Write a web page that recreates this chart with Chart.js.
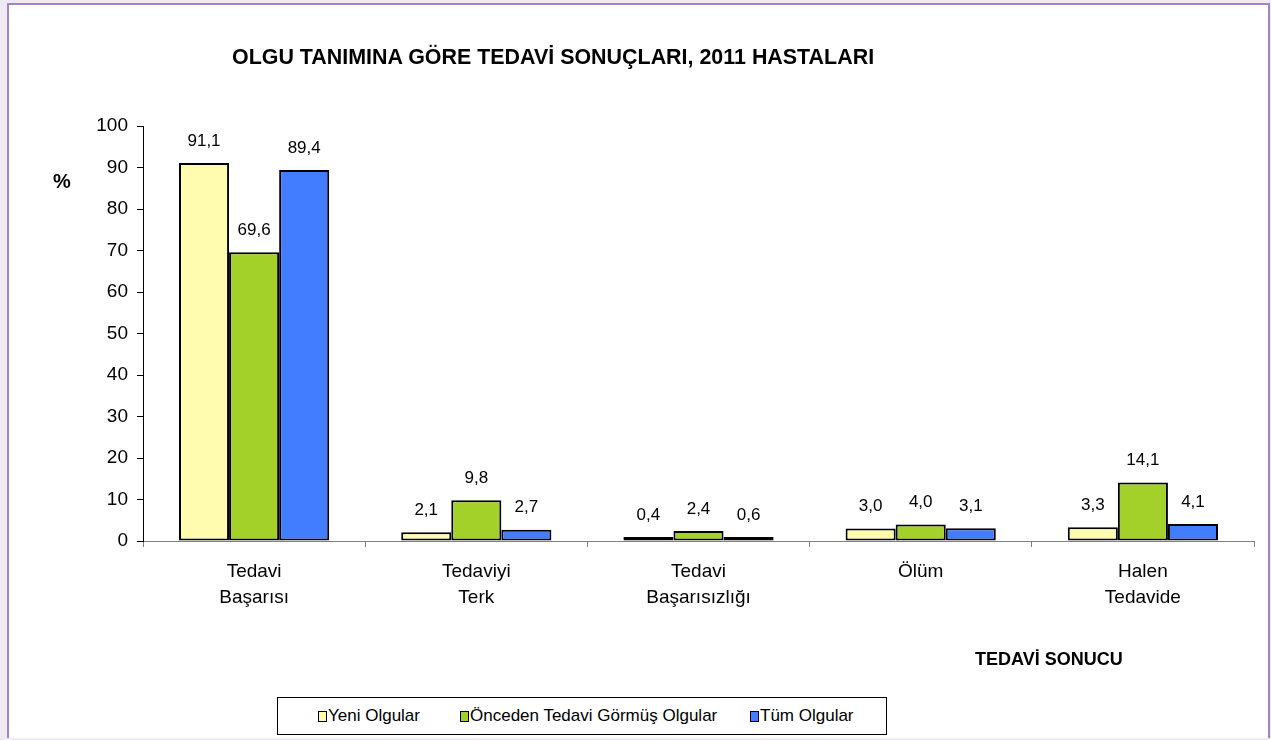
<!DOCTYPE html>
<html>
<head>
<meta charset="utf-8">
<script src="https://cdn.jsdelivr.net/npm/chart.js@4.4.1/dist/chart.umd.min.js"></script>
<style>
  body { margin: 0; background: #efebf3; width: 1271px; height: 740px; overflow: hidden; position: relative; }
  #frame { position: absolute; left: 7px; top: 3px; width: 1259px; height: 733px; border: 2px solid #a283c8; border-bottom: none; background: #fff; }
  #chartDiv { position: absolute; left: 0; top: 0; width: 1271px; height: 740px; }
  .txt { position: absolute; font-family: 'Liberation Sans', Arial, sans-serif; color: #000; white-space: nowrap; transform-origin: left center; }
  #title { left: 232px; top: 44px; font-size: 22px; font-weight: bold; transform: scaleX(0.974); }
  #pct { left: 53px; top: 170px; font-size: 20px; font-weight: bold; }
  #xtitle { left: 975px; top: 649px; font-size: 18px; font-weight: bold; }
  #legend { position: absolute; left: 277px; top: 697px; width: 610px; height: 38px; border: 1px solid #000; background: #fff; box-sizing: border-box; }
  .item { position: absolute; top: 0; height: 36px; display: flex; align-items: center; font-family: 'Liberation Sans', Arial, sans-serif; font-size: 17px; }
  .sw { width: 7px; height: 9px; border: 1.5px solid #000; margin-right: 1px; }
</style>
</head>
<body>
<div id="frame"></div>
<div id="chartDiv"><canvas id="myChart" width="1271" height="740"></canvas></div>
<div class="txt" id="title">OLGU TANIMINA GÖRE TEDAVİ SONUÇLARI, 2011 HASTALARI</div>
<div class="txt" id="pct">%</div>
<div class="txt" id="xtitle">TEDAVİ SONUCU</div>
<div id="legend"></div>
<script>
const categories = [["Tedavi", "Başarısı"], ["Tedaviyi", "Terk"], ["Tedavi", "Başarısızlığı"], ["Ölüm"], ["Halen", "Tedavide"]];
const seriesNames = ["Yeni Olgular", "Önceden Tedavi Görmüş Olgular", "Tüm Olgular"];
const yeniOlgular = [91.1, 2.1, 0.4, 3.0, 3.3];
const oncedenTedavi = [69.6, 9.8, 2.4, 4.0, 14.1];
const tumOlgular = [89.4, 2.7, 0.6, 3.1, 4.1];
const yTicks = [0, 10, 20, 30, 40, 50, 60, 70, 80, 90, 100];
const colors = ["#fffcb0", "#a3d12a", "#427dff"];

const font = "'Liberation Sans', Arial, sans-serif";

// legend in html, item left positions inside the box
const legendLefts = [40, 182, 472];
const legend = document.getElementById("legend");
seriesNames.forEach(function (name, i) {
    const item = document.createElement("div");
    item.className = "item";
    item.style.left = legendLefts[i] + "px";
    item.innerHTML = '<span class="sw" style="background:' + colors[i] + '"></span>' + name;
    legend.appendChild(item);
});

// labels above the bars, comma decimals
const valueLabels = {
    id: "valueLabels",
    afterDatasetsDraw(chart) {
        const ctx = chart.ctx;
        ctx.save();
        ctx.font = "17px " + font;
        ctx.fillStyle = "#000";
        ctx.textAlign = "center";
        ctx.textBaseline = "middle";
        chart.data.datasets.forEach(function (ds, di) {
            chart.getDatasetMeta(di).data.forEach(function (bar, i) {
                ctx.fillText(ds.data[i].toFixed(1).replace(".", ","), bar.x, bar.y - 22);
            });
        });
        ctx.restore();
    }
};

const canvas = document.getElementById("myChart");
new Chart(canvas, {
    type: "bar",
    data: {
        labels: categories,
        datasets: [
            { label: seriesNames[0], data: yeniOlgular, backgroundColor: colors[0] },
            { label: seriesNames[1], data: oncedenTedavi, backgroundColor: colors[1] },
            { label: seriesNames[2], data: tumOlgular, backgroundColor: colors[2] }
        ]
    },
    options: {
        responsive: false,
        animation: false,
        layout: { padding: { left: 0, top: 126, right: 17, bottom: 119 } },
        datasets: {
            bar: { borderColor: "#000", borderWidth: 2, borderSkipped: false, minBarLength: 4,
                   categoryPercentage: 0.676, barPercentage: 1 }
        },
        plugins: { legend: { display: false }, tooltip: { enabled: false } },
        scales: {
            x: {
                afterFit(scale) { scale.height = 80; },
                border: { color: "#808080", width: 1 },
                grid: { drawOnChartArea: false, offset: true, tickLength: 6, color: "#808080" },
                ticks: { font: { family: font, size: 19, lineHeight: 1.37 }, color: "#000", padding: 12, maxRotation: 0 }
            },
            y: {
                min: 0, max: 100,
                afterFit(scale) { scale.width = 143; },
                afterBuildTicks(scale) { scale.ticks = yTicks.map(v => ({ value: v })); },
                border: { color: "#000", width: 1 },
                grid: { drawOnChartArea: false, tickLength: 6, color: "#000" },
                ticks: { font: { family: font, size: 19 }, color: "#000", padding: 9 }
            }
        }
    },
    plugins: [valueLabels]
});
</script>
</body>
</html>
